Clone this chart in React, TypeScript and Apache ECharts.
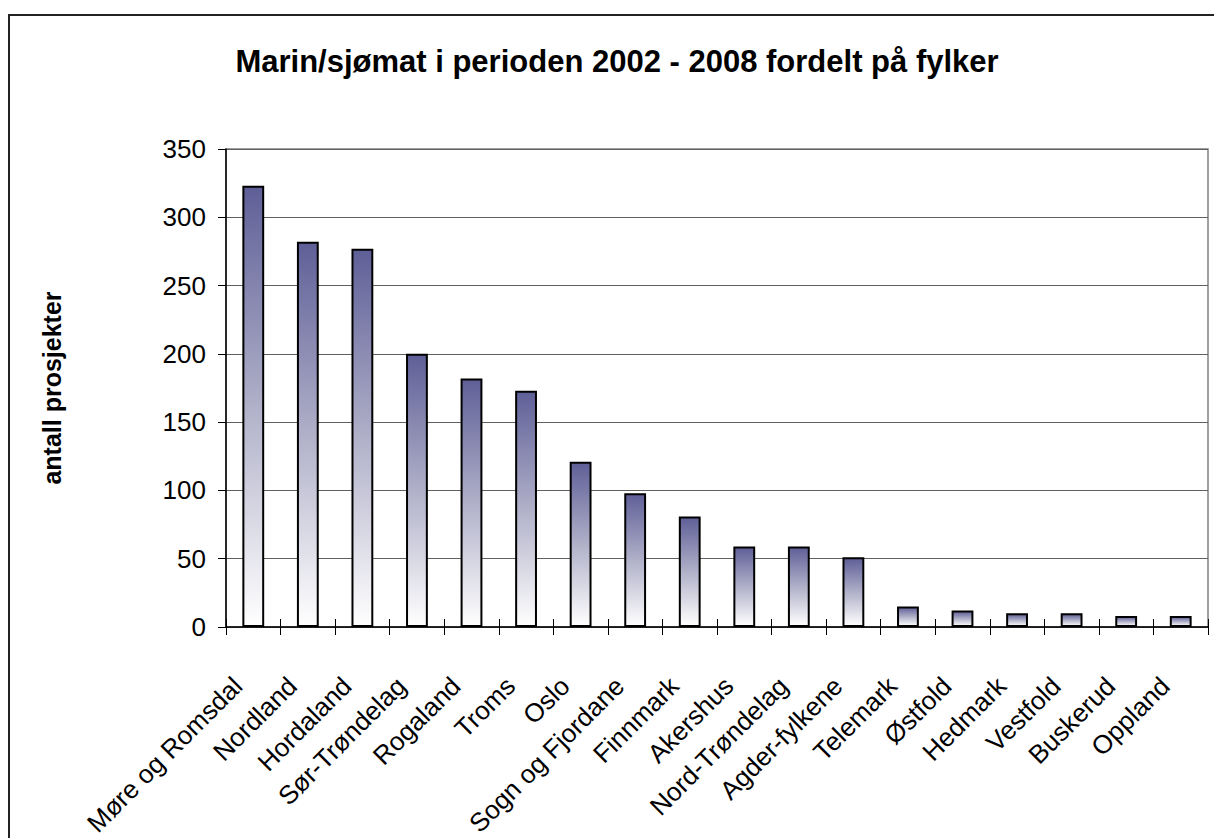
import React, { useEffect, useRef } from "react";
import * as echarts from "echarts";

const titleText = "Marin/sjømat i perioden 2002 - 2008 fordelt på fylker";
const yAxisName = "antall prosjekter";
const categories = [
  "Møre og Romsdal",
  "Nordland",
  "Hordaland",
  "Sør-Trøndelag",
  "Rogaland",
  "Troms",
  "Oslo",
  "Sogn og Fjordane",
  "Finnmark",
  "Akershus",
  "Nord-Trøndelag",
  "Agder-fylkene",
  "Telemark",
  "Østfold",
  "Hedmark",
  "Vestfold",
  "Buskerud",
  "Oppland",
];
const values = [323, 282, 277, 200, 182, 173, 121, 98, 81, 59, 59, 51, 15, 12, 10, 10, 8, 8];
const yMin = 0;
const yMax = 350;
const yStep = 50;

const FONT = 'Arial, "Liberation Sans", sans-serif';

export default function App() {
  const ref = useRef<HTMLDivElement>(null);
  useEffect(() => {
    if (!ref.current) return;
    const chart = echarts.init(ref.current, null, { renderer: "svg" });
    chart.setOption({
      animation: false,
      backgroundColor: "#ffffff",
      graphic: [
        {
          type: "rect",
          shape: { x: 9, y: 15, width: 1230, height: 840 },
          style: { fill: "none", stroke: "#222222", lineWidth: 2 },
          silent: true,
          z: 0,
        },
        {
          type: "text",
          x: 617,
          y: 61,
          style: {
            text: titleText,
            font: `bold 31px ${FONT}`,
            fill: "#000000",
            textAlign: "center",
            textVerticalAlign: "middle",
          },
        },
      ],
      grid: {
        left: 226,
        right: 6,
        top: 149,
        bottom: 211,
        containLabel: false,
        outerBoundsMode: "none",
        show: true,
        borderColor: "#808080",
        borderWidth: 1.5,
        backgroundColor: "transparent",
      },
      xAxis: [
        {
          type: "category",
          data: categories,
          axisLine: { show: true, lineStyle: { color: "#000000", width: 1.5 } },
          axisTick: { show: true, interval: 0, length: 8, lineStyle: { color: "#000000", width: 1 } },
          axisLabel: {
            interval: 0,
            rotate: 45,
            margin: 39,
            padding: [0, 22, 0, 0],
            fontFamily: FONT,
            fontSize: 26,
            color: "#000000",
          },
          splitLine: { show: false },
        },
        {
          type: "category",
          data: categories,
          position: "bottom",
          axisLine: { show: false },
          axisTick: { show: true, inside: true, interval: 0, length: 8, lineStyle: { color: "#000000", width: 1 } },
          axisLabel: { show: false },
          splitLine: { show: false },
        },
      ],
      yAxis: {
        type: "value",
        min: yMin,
        max: yMax,
        interval: yStep,
        name: yAxisName,
        nameLocation: "middle",
        nameGap: 162,
        nameRotate: 90,
        nameTextStyle: { fontFamily: FONT, fontSize: 25, fontWeight: "bold", color: "#000000" },
        axisLine: { show: true, lineStyle: { color: "#000000", width: 1.5 } },
        axisTick: { show: true, length: 8, lineStyle: { color: "#000000", width: 1 } },
        axisLabel: { margin: 20, fontFamily: FONT, fontSize: 26, color: "#000000" },
        splitLine: { show: true, lineStyle: { color: "#606060", width: 1.2 } },
      },
      series: [
        {
          type: "bar",
          xAxisIndex: 0,
          data: values,
          barWidth: "40%",
          itemStyle: {
            borderColor: "#000000",
            borderWidth: 2,
            color: new echarts.graphic.LinearGradient(0, 0, 0, 1, [
              { offset: 0, color: "#5f5f98" },
              { offset: 0.5, color: "#b0b0c9" },
              { offset: 1, color: "#ffffff" },
            ]),
          },
        },
      ],
    });
    return () => chart.dispose();
  }, []);
  return (
    <div
      ref={ref}
      style={{ position: "absolute", left: 0, top: 0, width: 1214, height: 838 }}
    />
  );
}
